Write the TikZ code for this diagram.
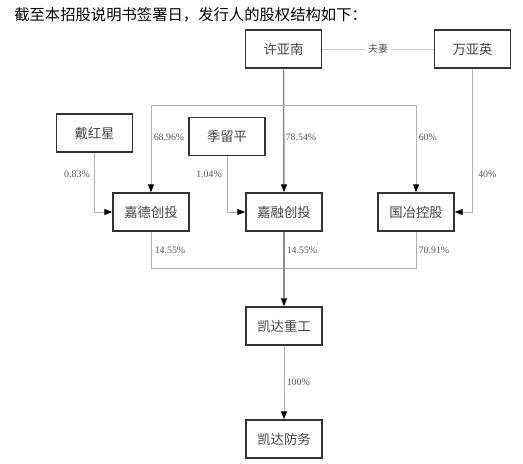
\documentclass[tikz,border=0pt]{standalone}
\usepackage{fontspec}
\setmainfont{Liberation Serif}
\newfontfamily\cjk{Noto Sans CJK SC}
\usetikzlibrary{arrows.meta}
\definecolor{boxline}{HTML}{333333}
\definecolor{connline}{HTML}{B0B0B0}
\definecolor{mainline}{HTML}{8C8C8C}
\definecolor{txt}{HTML}{444444}
\definecolor{pct}{HTML}{555555}
\tikzset{
  entity/.style={draw=boxline, line width=1.1pt, minimum width=57pt, minimum height=28.5pt, inner sep=0pt, font=\cjk\fontsize{10}{12}\selectfont, text=txt, fill=white},
  conn/.style={draw=connline, line width=0.75pt},
  mainconn/.style={draw=mainline, line width=1.1pt},
  arr/.style={-{Triangle[length=6pt,width=4.5pt]}, arrows={[color=black]}},
  pctlabel/.style={font=\fontsize{7.4}{9}\selectfont, text=pct, inner sep=0pt},
}
\begin{document}
\begin{tikzpicture}[x=0.75pt, y=-0.75pt]
\useasboundingbox (0,0) rectangle (523,463);
\node[anchor=west, inner sep=0pt, font=\cjk\fontsize{11.5}{14}\selectfont, text=black] (title) at (14,15) {截至本招股说明书签署日，发行人的股权结构如下：};
% nodes
\node[entity] (xyn) at (283.5,49) {许亚南};
\node[entity] (wyy) at (472.5,49) {万亚英};
\node[entity] (dhx) at (94.5,133) {戴红星};
\node[entity] (jlp) at (227,136.5) {季留平};
\node[entity] (jd) at (151,212) {嘉德创投};
\node[entity] (jr) at (284,212) {嘉融创投};
\node[entity] (gy) at (416,212) {国冶控股};
\node[entity] (kd) at (284,326) {凯达重工};
\node[entity] (kf) at (284,439) {凯达防务};
% spouse link
\draw[draw=black!20, line width=0.5pt] (xyn.east) -- (wyy.west) node[midway, fill=white, inner sep=2pt, font=\cjk\fontsize{7.5}{9}\selectfont, text=pct] (fq) {夫妻};
% top junction
\coordinate (j1) at (283.5,106);
\draw[mainconn, arr] (xyn.south) -- (jr.north);
\draw[conn, arr] (j1) -| (jd.north);
\draw[conn, arr] (j1) -| (gy.north);
\draw[conn, arr] (dhx.south) |- (jd.west);
\draw[conn, arr] (jlp.south) |- (jr.west);
\draw[conn, arr] (wyy.south) |- (gy.east);
% bottom junction
\coordinate (j2) at (284,268.7);
\draw[conn] (jd.south) |- (j2);
\draw[conn] (gy.south) |- (j2);
\draw[mainconn, arr] (jr.south) -- (kd.north);
\draw[conn, arr] (kd.south) -- (kf.north);
% labels
\node[pctlabel, anchor=west] (l1) at (153.5,137) {68.96\%};
\node[pctlabel, anchor=west] (l2) at (285.5,137) {78.54\%};
\node[pctlabel, anchor=west] (l3) at (418.5,137) {60\%};
\node[pctlabel, anchor=east] (l4) at (90,174) {0.83\%};
\node[pctlabel, anchor=east] (l5) at (222,174) {1.04\%};
\node[pctlabel, anchor=west] (l6) at (478,174) {40\%};
\node[pctlabel, anchor=west] (l7) at (154.5,250) {14.55\%};
\node[pctlabel, anchor=west] (l8) at (286.5,250) {14.55\%};
\node[pctlabel, anchor=west] (l9) at (418.5,250) {70.91\%};
\node[pctlabel, anchor=west] (l10) at (286.5,382) {100\%};
\end{tikzpicture}
\end{document}
